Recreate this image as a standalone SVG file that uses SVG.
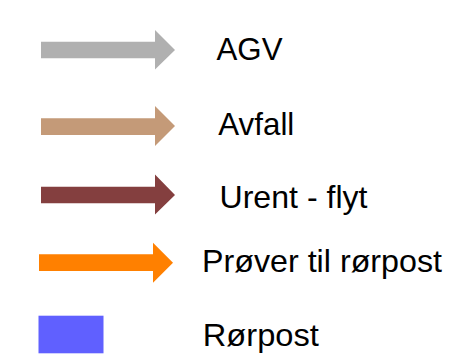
<svg xmlns="http://www.w3.org/2000/svg" width="459" height="363" viewBox="0 0 459 363">
<style>
text{font-family:"Liberation Sans",Arial,sans-serif;font-size:30.5px;fill:#000}
</style>
<rect width="459" height="363" fill="#fff"/>
<g id="legend-agv">
<polygon points="41,41.7 155,41.7 155,30 175,50 155,69.5 155,58.3 41,58.3" fill="#b0b0b0"/>
<text x="216.5" y="60" textLength="66" lengthAdjust="spacingAndGlyphs">AGV</text>
</g>
<g id="legend-avfall">
<polygon points="41,118.3 155,118.3 155,106 175,126 155,146 155,135 41,135" fill="#c49a78"/>
<text x="218.3" y="135" textLength="76" lengthAdjust="spacingAndGlyphs">Avfall</text>
</g>
<g id="legend-urent">
<polygon points="41,186.7 155,186.7 155,174.5 175,195 155,214.5 155,203.3 41,203.3" fill="#843f3f"/>
<text x="219.5" y="207.5" textLength="148" lengthAdjust="spacingAndGlyphs">Urent - flyt</text>
</g>
<g id="legend-prover">
<polygon points="39,254.3 153,254.3 153,242.7 173,262.7 153,282.7 153,271 39,271" fill="#ff8000"/>
<text x="202" y="271.5" textLength="240" lengthAdjust="spacingAndGlyphs">Prøver til rørpost</text>
</g>
<g id="legend-rorpost">
<rect x="38.5" y="315.7" width="65" height="37.6" fill="#6060ff"/>
<text x="202.8" y="346" textLength="116" lengthAdjust="spacingAndGlyphs">Rørpost</text>
</g>
<g id="connectors"/>
</svg>
